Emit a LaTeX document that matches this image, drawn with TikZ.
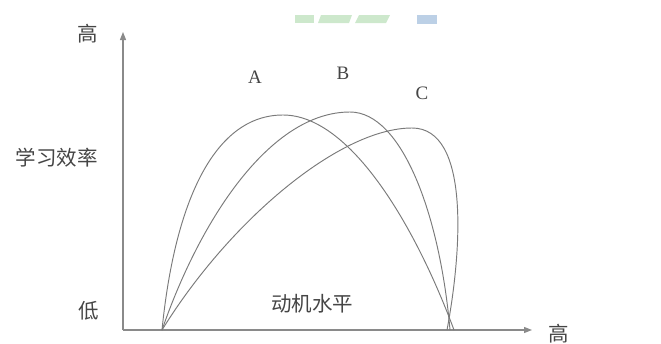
\documentclass[tikz,border=0pt]{standalone}
\usepackage{fontspec}
\setmainfont{Liberation Serif}
\newfontfamily\cjk{Noto Sans CJK SC}
\usetikzlibrary{arrows.meta}
\definecolor{axisgray}{HTML}{8A8A8A}
\definecolor{curvegray}{HTML}{7A7A7A}
\definecolor{textgray}{HTML}{454545}
\definecolor{wmgreen}{HTML}{CDE8CC}
\definecolor{wmblue}{HTML}{BCD0E6}
\tikzset{
  axisline/.style={draw=axisgray, line width=1.3pt, -{Triangle[length=8pt,width=6pt]}},
  curveline/.style={draw=curvegray, line width=0.95pt},
  cjklabel/.style={text=textgray, font=\cjk\fontsize{20.5}{20.5}\selectfont, inner sep=0pt},
  letterlabel/.style={text=textgray, font=\fontsize{19}{19}\selectfont, inner sep=0pt}
}
\begin{document}
\begin{tikzpicture}[x=1pt,y=-1pt]
\useasboundingbox (0,0) rectangle (661,343);
% faint watermark
\fill[wmgreen] (295,15) -- (314,15) -- (314,23) -- (295,23) -- cycle;
\fill[wmgreen] (321,15) -- (352,15) -- (349,23) -- (318,23) -- cycle;
\fill[wmgreen] (359,15) -- (390,15) -- (386,23) -- (355,23) -- cycle;
\fill[wmblue] (417,15) rectangle (437,24);
% axes
\coordinate (O) at (123,330);
\coordinate (Ytop) at (123,32);
\coordinate (Xend) at (532,330);
\draw[axisline] (O) -- (Ytop);
\draw[axisline] (O) -- (Xend);
% curves
\coordinate (S) at (162,330);
\coordinate (Apk) at (283,115);
\coordinate (Aend) at (454,330);
\coordinate (Bpk) at (350,112);
\coordinate (Bend) at (450,330);
\coordinate (Cpk) at (412,128);
\coordinate (Cend) at (447,330);
\draw[curveline] (S) .. controls (175,200) and (215,115) .. (Apk)
  .. controls (350,115) and (415,225) .. (Aend);
\draw[curveline] (S) .. controls (200,220) and (270,112) .. (Bpk)
  .. controls (402,112) and (440,215) .. (Bend);
\draw[curveline] (S) .. controls (230,220) and (340,128) .. (Cpk)
  .. controls (470,128) and (462,250) .. (Cend);
% labels
\node[cjklabel] (ytop) at (88,34) {高};
\node[cjklabel] (ylab) at (57,158) {学习效率};
\node[cjklabel] (ylow) at (89,311) {低};
\node[cjklabel] (xlab) at (312,304) {动机水平};
\node[cjklabel] (xhigh) at (559,334) {高};
\node[letterlabel] (A) at (255,77) {A};
\node[letterlabel] (B) at (343,73) {B};
\node[letterlabel] (C) at (422,93) {C};
\end{tikzpicture}
\end{document}
